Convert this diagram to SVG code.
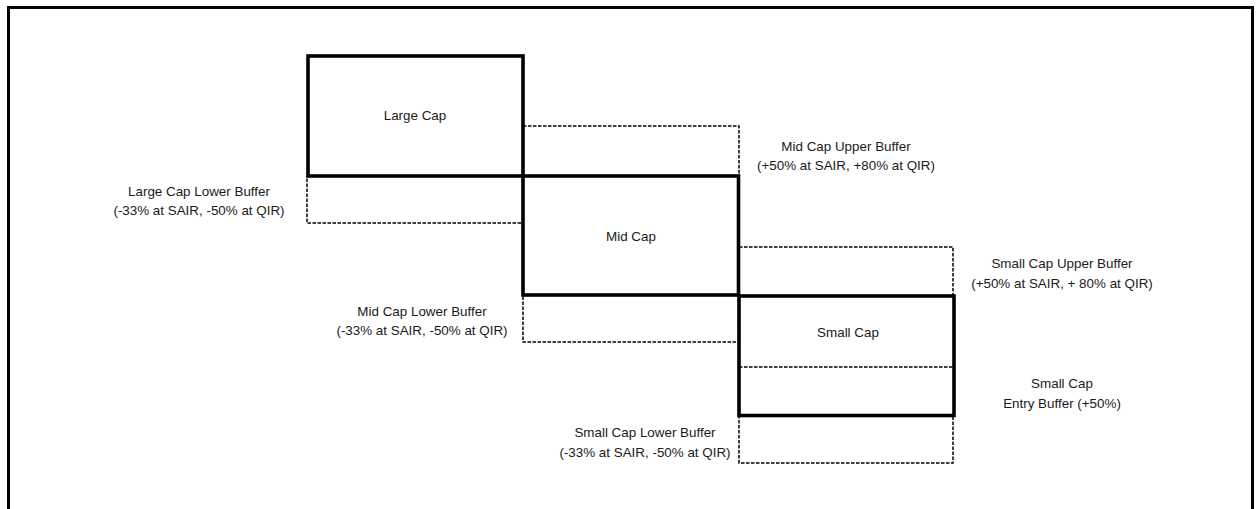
<svg xmlns="http://www.w3.org/2000/svg" width="1258" height="509" viewBox="0 0 1258 509">
<style>
.frame{fill:none;stroke:#000;stroke-width:3}
.band{fill:none;stroke:#000;stroke-width:3.6}
.buf{fill:none;stroke:#000;stroke-width:1.5;stroke-dasharray:3.5 1.5}
text{font-family:"Liberation Sans",Arial,sans-serif;font-size:13.4px;fill:#1a1a1a;text-anchor:middle}
</style>
<rect x="0" y="0" width="1258" height="509" fill="#fff"/>
<rect class="frame" x="8.5" y="7.5" width="1244" height="520"/>
<g id="buffers">
<g id="large-cap-lower-buffer">
<rect class="buf" x="307" y="176" width="216" height="47"/>
<text x="199" y="196">Large Cap Lower Buffer</text>
<text x="199" y="215">(-33% at SAIR, -50% at QIR)</text>
</g>
<g id="mid-cap-upper-buffer">
<rect class="buf" x="523" y="126" width="216" height="50"/>
<text x="846" y="151">Mid Cap Upper Buffer</text>
<text x="846" y="170">(+50% at SAIR, +80% at QIR)</text>
</g>
<g id="mid-cap-lower-buffer">
<rect class="buf" x="523" y="295" width="215.5" height="47"/>
<text x="422" y="316">Mid Cap Lower Buffer</text>
<text x="422" y="335">(-33% at SAIR, -50% at QIR)</text>
</g>
<g id="small-cap-upper-buffer">
<rect class="buf" x="739" y="247" width="214" height="49"/>
<text x="1062" y="268">Small Cap Upper Buffer</text>
<text x="1062" y="288">(+50% at SAIR, + 80% at QIR)</text>
</g>
<g id="small-cap-entry-buffer">
<line class="buf" x1="739" y1="367" x2="954" y2="367"/>
<text x="1062" y="388">Small Cap</text>
<text x="1062" y="408">Entry Buffer (+50%)</text>
</g>
<g id="small-cap-lower-buffer">
<rect class="buf" x="739" y="415.5" width="214" height="47.5"/>
<text x="645" y="437">Small Cap Lower Buffer</text>
<text x="645" y="457">(-33% at SAIR, -50% at QIR)</text>
</g>
</g>
<g id="large-cap">
<rect class="band" x="308" y="56" width="215" height="120"/>
<text x="415" y="120">Large Cap</text>
</g>
<g id="mid-cap">
<rect class="band" x="523" y="176" width="215.5" height="119"/>
<text x="631" y="241">Mid Cap</text>
</g>
<g id="small-cap">
<rect class="band" x="739" y="296" width="215" height="119.5"/>
<text x="848" y="337">Small Cap</text>
</g>
</svg>
